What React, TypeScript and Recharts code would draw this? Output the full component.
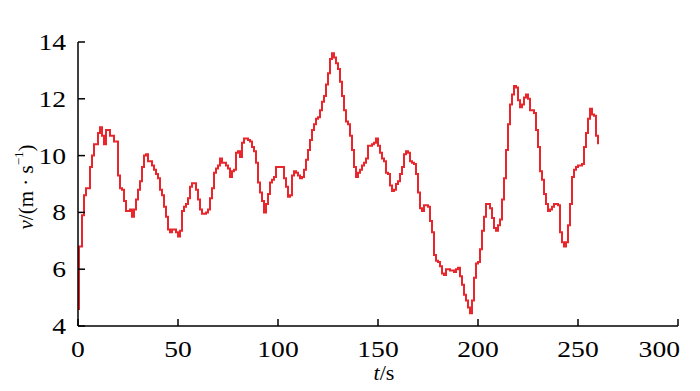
import React from "react";
import { LineChart, Line, XAxis, YAxis, Label } from "recharts";

const timeS: number[] = [
  0, 0.5, 2, 3, 4, 6, 7, 8, 10, 11, 12, 13, 14, 16, 18, 20, 21, 22, 23, 24, 26, 27, 28, 29, 30,
  31, 32, 33, 34, 35, 37, 38, 39, 40, 41, 42, 43, 44, 45, 46, 47, 49, 50, 51, 52, 53, 54, 55, 56, 57,
  59, 60, 61, 62, 64, 65, 66, 67, 68, 69, 70, 71, 72, 74, 75, 76, 77, 78, 79, 80, 81, 82, 83, 85, 86,
  87, 88, 89, 90, 91, 92, 93, 94, 95, 96, 97, 98, 99, 102, 103, 104, 105, 106, 107, 108, 109, 110, 111, 112, 113,
  114, 115, 116, 117, 118, 119, 120, 121, 122, 123, 124, 125, 126, 127, 128, 129, 130, 131, 132, 133, 134, 135, 136, 137, 138,
  139, 140, 141, 142, 143, 144, 145, 147, 148, 149, 150, 151, 152, 153, 154, 155, 156, 157, 158, 159, 160, 161, 162, 163, 164,
  165, 166, 167, 168, 169, 170, 171, 172, 173, 175, 176, 177, 178, 179, 180, 181, 182, 183, 184, 186, 188, 189, 190, 191, 192,
  193, 194, 195, 196, 197, 198, 199, 200, 201, 202, 203, 204, 206, 207, 208, 209, 210, 211, 212, 213, 214, 215, 216, 217, 218,
  219, 220, 221, 222, 223, 224, 225, 226, 228, 229, 230, 231, 232, 233, 234, 235, 236, 237, 238, 240, 241, 242, 243, 244, 245,
  246, 247, 248, 249, 250, 252, 253, 254, 255, 256, 257, 258, 259, 260,
];

const speed: number[] = [
  4.6, 6.8, 7.9, 8.6, 8.85, 9.6, 10.0, 10.4, 10.8, 11.0, 10.7, 10.4, 10.9, 10.7, 10.5, 9.3, 8.85, 8.8, 8.4, 8.05, 8.1, 7.85, 8.1, 8.45, 8.8,
  9.1, 9.6, 10.0, 10.05, 9.8, 9.65, 9.5, 9.35, 9.2, 8.8, 8.6, 8.2, 7.85, 7.4, 7.3, 7.4, 7.3, 7.15, 7.35, 8.05, 8.2, 8.3, 8.5, 8.9, 9.03,
  8.8, 8.45, 8.1, 7.95, 8.0, 8.1, 8.5, 8.85, 9.4, 9.55, 9.65, 9.9, 9.75, 9.65, 9.55, 9.25, 9.45, 9.5, 10.1, 10.15, 9.95, 10.45, 10.6, 10.55, 10.5,
  10.3, 10.15, 9.75, 9.05, 8.7, 8.4, 8.0, 8.3, 8.65, 9.05, 9.15, 9.25, 9.6, 9.6, 9.2, 8.9, 8.55, 8.6, 9.3, 9.45, 9.4, 9.3, 9.2, 9.25, 9.5,
  9.85, 10.2, 10.55, 10.9, 11.1, 11.3, 11.35, 11.6, 11.9, 12.1, 12.5, 12.9, 13.4, 13.6, 13.45, 13.25, 13.05, 12.6, 12.1, 11.6, 11.2, 11.1, 10.7, 10.2, 9.6,
  9.25, 9.4, 9.5, 9.65, 9.75, 9.9, 10.35, 10.4, 10.45, 10.6, 10.35, 10.1, 9.9, 9.8, 9.4, 9.35, 8.95, 8.75, 8.8, 9.0, 9.1, 9.35, 9.6, 10.05, 10.15,
  10.1, 9.8, 9.75, 9.7, 9.35, 8.7, 8.15, 8.05, 8.25, 8.2, 7.7, 7.3, 6.5, 6.3, 6.25, 6.1, 5.85, 5.8, 6.0, 5.95, 5.9, 6.0, 6.05, 5.75, 5.45,
  5.1, 4.9, 4.65, 4.45, 4.9, 5.7, 6.2, 6.25, 6.7, 7.35, 7.85, 8.3, 8.15, 7.8, 7.45, 7.35, 7.55, 7.75, 8.45, 9.2, 10.2, 11.1, 11.8, 12.15, 12.45,
  12.4, 11.95, 11.7, 11.8, 12.05, 12.15, 12.0, 11.6, 11.5, 10.9, 10.3, 9.45, 9.15, 8.65, 8.3, 8.05, 8.1, 8.2, 8.3, 8.25, 7.3, 6.95, 6.8, 6.95, 7.55,
  8.3, 9.25, 9.5, 9.6, 9.65, 9.7, 10.3, 10.8, 11.3, 11.65, 11.45, 11.4, 10.7, 10.4,
];

const xTicks: number[] = [0, 50, 100, 150, 200, 250, 300];
const yTicks: number[] = [4, 6, 8, 10, 12, 14];

const data = timeS.map((t, i) => ({ t, v: speed[i] }));

const FONT = "'Liberation Serif', 'Times New Roman', serif";
const LAST_X = xTicks[xTicks.length - 1];

const XTick = (props: any) => {
  const { x, y, payload } = props;
  const isLast = payload.value === LAST_X;
  return (
    <g>
      <line x1={x} y1={y} x2={x} y2={y - 7} stroke="#000" strokeWidth={1.5} />
      <text
        transform={`translate(${isLast ? x + 2 : x},${y + 30.5}) scale(1.2,1)`}
        textAnchor={isLast ? "end" : "middle"}
        fontFamily={FONT}
        fontSize={23}
        fill="#000"
      >
        {payload.value}
      </text>
    </g>
  );
};

const YTick = (props: any) => {
  const { x, y, payload } = props;
  return (
    <g>
      <line x1={x} y1={y} x2={x + 7} y2={y} stroke="#000" strokeWidth={1.5} />
      <text
        transform={`translate(${x - 12},${y + 8}) scale(1.2,1)`}
        textAnchor="end"
        fontFamily={FONT}
        fontSize={23}
        fill="#000"
      >
        {payload.value}
      </text>
    </g>
  );
};

const XTitle = () => (
  <text x={376} y={372} textAnchor="middle" fontFamily={FONT} fontSize={22} fill="#000">
    <tspan fontStyle="italic">t</tspan>
    <tspan>/s</tspan>
  </text>
);

const YTitle = () => (
  <text
    transform="translate(18,179) rotate(-90)"
    textAnchor="middle"
    dominantBaseline="central"
    fontFamily={FONT}
    fontSize={21}
    fill="#000"
  >
    <tspan fontStyle="italic">v</tspan>
    <tspan>/(m · s</tspan>
    <tspan dy={-8} fontSize={13}>−1</tspan>
    <tspan dy={8}>)</tspan>
  </text>
);

export default function App() {
  return (
    <LineChart
      width={692}
      height={383}
      data={data}
      margin={{ top: 34, right: 22, left: 0, bottom: 0 }}
    >
      <XAxis
        dataKey="t"
        type="number"
        domain={[0, 300]}
        ticks={xTicks}
        interval={0}
        height={65}
        tickSize={0}
        tickMargin={0}
        tickLine={false}
        axisLine={{ stroke: "#000", strokeWidth: 1.5 }}
        tick={<XTick />}
      >
        <Label content={<XTitle />} />
      </XAxis>
      <YAxis
        type="number"
        domain={[4, 14]}
        ticks={yTicks}
        interval={0}
        width={70}
        tickSize={0}
        tickMargin={0}
        tickLine={false}
        axisLine={{ stroke: "#000", strokeWidth: 1.5 }}
        tick={<YTick />}
      >
        <Label content={<YTitle />} />
      </YAxis>
      <Line
        type="stepAfter"
        dataKey="v"
        stroke="#e8262b"
        strokeWidth={2}
        dot={false}
        isAnimationActive={false}
      />
    </LineChart>
  );
}
